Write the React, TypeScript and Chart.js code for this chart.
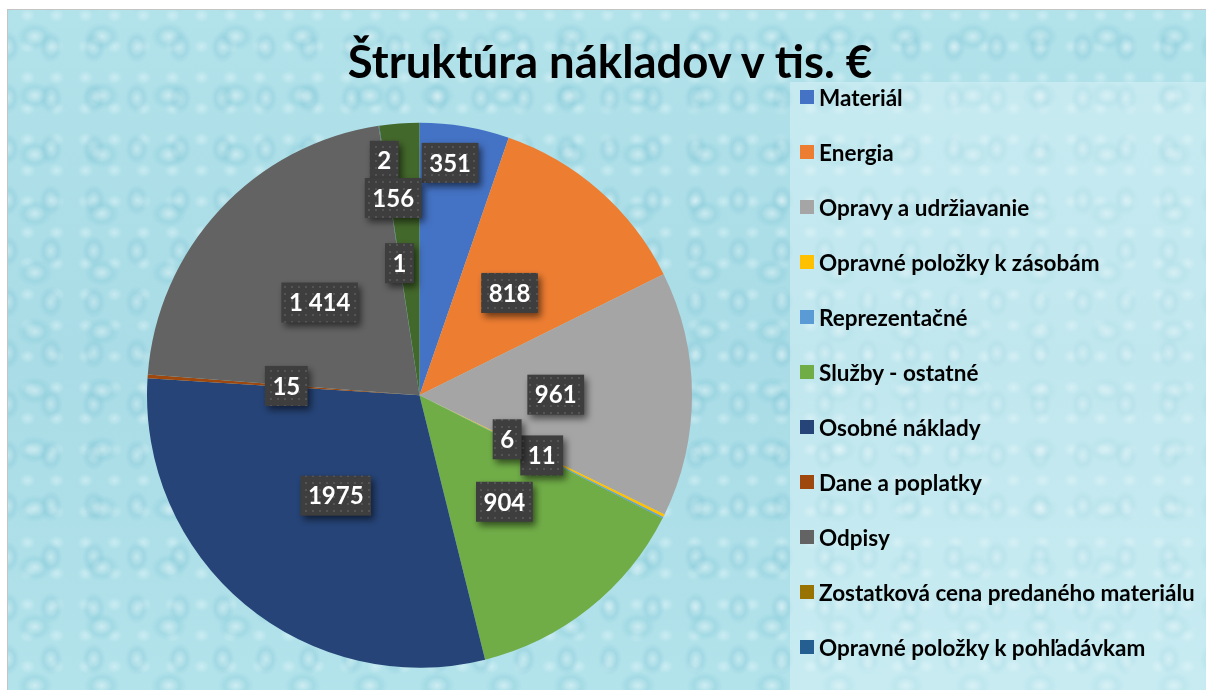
import React, { useEffect, useRef } from "react";
import { Chart, registerables } from "chart.js";

Chart.register(...registerables);

const categories = [
  "Materiál",
  "Energia",
  "Opravy a udržiavanie",
  "Opravné položky k zásobám",
  "Reprezentačné",
  "Služby - ostatné",
  "Osobné náklady",
  "Dane a poplatky",
  "Odpisy",
  "Zostatková cena predaného materiálu",
  "Opravné položky k pohľadávkam",
  "Ostatné náklady",
];

const costValues = [351, 818, 961, 11, 6, 904, 1975, 15, 1414, 1, 2, 156];

const sliceColors = [
  "#4472C4",
  "#ED7D31",
  "#A5A5A5",
  "#FFC000",
  "#5B9BD5",
  "#70AD47",
  "#264478",
  "#9E480E",
  "#636363",
  "#997300",
  "#255E91",
  "#43682B",
];

const legendCount = 11;
const groupedLabelIndex = [8];

// label layout (fraction of radius, optional bearing override in degrees)
const labelRadius = [0.86, 0.5, 0.5, 0.5, 0.36, 0.5, 0.48, 0.49, 0.5, 0.49, 0.87, 0.73];
const labelBearing: (number | null)[] = [7.5, null, null, null, null, null, null, null, null, null, null, 352.4];

const fmt = (v: number, i: number) =>
  groupedLabelIndex.includes(i) ? String(v).replace(/\B(?=(\d{3})+(?!\d))/g, " ") : String(v);

function makePattern(ctx: CanvasRenderingContext2D) {
  const c = document.createElement("canvas");
  c.width = 7;
  c.height = 7;
  const p = c.getContext("2d")!;
  p.fillStyle = "#3e3e3e";
  p.fillRect(0, 0, 7, 7);
  p.fillStyle = "#545454";
  p.fillRect(3, 3, 2, 2);
  return ctx.createPattern(c, "repeat");
}

const dataLabelPlugin = {
  id: "boxLabels",
  afterDatasetsDraw(chart: any) {
    const ctx: CanvasRenderingContext2D = chart.ctx;
    const meta = chart.getDatasetMeta(0);
    const pattern = makePattern(ctx);
    ctx.save();
    ctx.font = "bold 24px Lato";
    ctx.textAlign = "center";
    ctx.textBaseline = "middle";
    meta.data.forEach((arc: any, i: number) => {
      const { x, y, startAngle, endAngle, outerRadius } = arc.getProps(
        ["x", "y", "startAngle", "endAngle", "outerRadius"],
        true
      );
      const b = labelBearing[i];
      const ang = b == null ? (startAngle + endAngle) / 2 : (b * Math.PI) / 180 - Math.PI / 2;
      const r = outerRadius * labelRadius[i];
      const cx = x + Math.cos(ang) * r;
      const cy = y + Math.sin(ang) * r;
      const text = fmt(costValues[i], i);
      const w = ctx.measureText(text).width + 15;
      const h = 40;
      ctx.save();
      ctx.shadowColor = "rgba(0,0,0,0.55)";
      ctx.shadowBlur = 7;
      ctx.shadowOffsetX = 3;
      ctx.shadowOffsetY = 4;
      ctx.fillStyle = pattern || "#404040";
      ctx.fillRect(cx - w / 2, cy - h / 2, w, h);
      ctx.restore();
      ctx.fillStyle = "#ffffff";
      ctx.fillText(text, cx, cy + 1);
    });
    ctx.restore();
  },
};

const bgImage = [
  "radial-gradient(ellipse 18px 14px at 40% 45%, rgba(255,255,255,0.35), rgba(120,195,210,0.25) 60%, rgba(0,0,0,0) 100%)",
  "radial-gradient(ellipse 12px 16px at 60% 55%, rgba(255,255,255,0.25), rgba(110,185,205,0.22) 60%, rgba(0,0,0,0) 100%)",
  "radial-gradient(ellipse 8px 7px at 50% 50%, rgba(240,252,255,0.4), rgba(0,0,0,0) 100%)",
  "linear-gradient(180deg, #b2e2ea 0%, #a9dce6 50%, #b3e3eb 100%)",
].join(",");

export default function App() {
  const canvasRef = useRef<HTMLCanvasElement | null>(null);

  useEffect(() => {
    document.body.style.overflow = "hidden";
    const chart = new Chart(canvasRef.current!, {
      type: "pie",
      data: {
        labels: categories,
        datasets: [
          {
            data: costValues,
            backgroundColor: sliceColors,
            borderWidth: 0,
          },
        ],
      },
      options: {
        animation: false,
        responsive: false,
        layout: { padding: { left: 139, right: 516, top: 112.7, bottom: 24.3 } },
        plugins: {
          legend: { display: false },
          tooltip: { enabled: false },
          title: { display: false },
        },
      },
      plugins: [dataLabelPlugin],
    });
    return () => chart.destroy();
  }, []);

  return (
    <div
      style={{
        position: "fixed",
        left: 7,
        top: 9,
        width: 1210,
        height: 700,
        border: "1px solid #c4c4c4",
        backgroundImage: bgImage,
        backgroundSize: "67px 59px, 43px 51px, 29px 31px, 100% 100%",
        backgroundPosition: "0 0, 17px 9px, 5px 21px, 0 0",
        overflow: "hidden",
        fontFamily: "Lato, sans-serif",
      }}
    >
      <div
        style={{
          position: "absolute",
          left: 782,
          top: 72,
          width: 420,
          height: 640,
          background: "rgba(235,250,252,0.38)",
        }}
      />
      <canvas
        ref={canvasRef}
        width={1200}
        height={682}
        style={{ position: "absolute", left: 0, top: 0, width: 1200, height: 682 }}
      />
      <div
        style={{
          position: "absolute",
          left: 0,
          top: 24,
          width: 1204,
          textAlign: "center",
          fontWeight: 700,
          fontSize: 45.5,
          lineHeight: "54px",
          color: "#000",
        }}
      >
        Štruktúra nákladov v tis. €
      </div>
      <div style={{ position: "absolute", left: 792, top: 59.5 }}>
        {categories.slice(0, legendCount).map((c, i) => (
          <div
            key={c}
            style={{
              display: "flex",
              alignItems: "center",
              height: 55,
              fontWeight: 700,
              fontSize: 22.5,
              color: "#000",
              whiteSpace: "nowrap",
            }}
          >
            <span
              style={{
                display: "inline-block",
                width: 14,
                height: 14,
                background: sliceColors[i],
                marginRight: 5,
                flex: "none",
              }}
            />
            <span>{c}</span>
          </div>
        ))}
      </div>
    </div>
  );
}
